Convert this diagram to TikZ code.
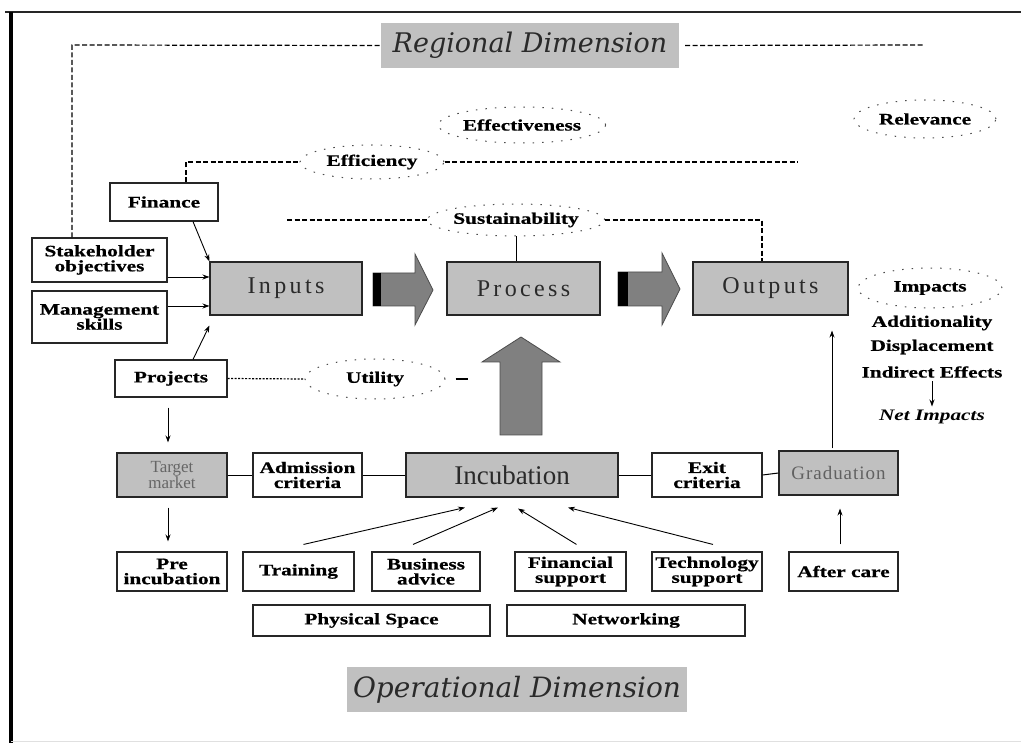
\documentclass[tikz,border=0pt]{standalone}
\usepackage{fontspec}
\setmainfont{Liberation Serif}
\newfontfamily\lblfont{Liberation Serif}[FakeStretch=1.33, BoldFeatures={FakeBold=0.6}]
\newfontfamily\spacedfont{Liberation Serif}[LetterSpace=14]
\newfontfamily\lightspacedfont{Liberation Serif}[LetterSpace=5]
\newfontfamily\dimfont{DejaVu Serif}
\usetikzlibrary{shapes.geometric,arrows.meta,calc}
\definecolor{boxgray}{HTML}{C0C0C0}
\definecolor{arrowgray}{HTML}{808080}
\definecolor{inkgray}{HTML}{2A2A2A}

\tikzset{
  sz/.style 2 args={minimum width=#1pt, minimum height=#2pt},
  lbl/.style={font=\lblfont\bfseries\fontsize{16}{15}\selectfont},
  box/.style={lbl, draw=black!85, line width=1.1pt, inner sep=0pt, align=center},
  gbox/.style={box, fill=boxgray},
  stage/.style={gbox, font=\spacedfont\fontsize{24}{24}\selectfont, text=inkgray},
  dimbox/.style={fill=boxgray, inner sep=0pt, text=inkgray},
  cloud/.style={lbl, ellipse, draw=black!70, line width=1pt, dash pattern=on 1.5pt off 8pt, inner sep=0pt},
  arr/.style={-{Stealth[length=7pt,width=5pt]}, line width=0.9pt},
  dashedline/.style={line width=1.2pt, dash pattern=on 5pt off 2.5pt},
  dottedline/.style={line width=1.2pt, dash pattern=on 2pt off 1.5pt},
  block/.style={fill=arrowgray, draw=black!70, line width=0.8pt, line join=miter}
}

\begin{document}
\begin{tikzpicture}[x=1pt,y=-1pt]
\useasboundingbox[fill=white] (0,0) rectangle (1021,743);

% page frame
\draw[line width=1.2pt, black!85] (5,12) -- (1021,12);
\draw[line width=3.5pt] (11,12) -- (11,743);
\draw[line width=0.8pt, black!12] (11,741) -- (1021,741);

% dimension labels
\node[dimbox, sz={298}{45}, font=\dimfont\itshape\fontsize{27}{27}\selectfont] (regional) at (530,45.5) {Regional Dimension};
\node[dimbox, sz={340}{45}, font=\dimfont\itshape\fontsize{28}{28}\selectfont] (operational) at (517,689.5) {Operational Dimension};

% evaluation criteria
\node[cloud, sz={148}{36}] (effectiveness) at (522,125) {Effectiveness};
\node[cloud, sz={142}{38}] (relevance) at (925,119) {Relevance};
\node[cloud, sz={144}{34}] (efficiency) at (372,162) {Efficiency};
\node[cloud, sz={144}{32}] (sustainability) at (516,220) {Sustainability};
\node[cloud, sz={140}{40}] (utility) at (375,379) {Utility};
\node[cloud, sz={144}{40}] (impacts) at (930,288) {Impacts};

% input factors
\node[box, sz={108}{38}] (finance) at (164,202) {Finance};
\node[box, sz={135}{44}] (stake) at (99.5,260) {Stakeholder\\objectives};
\node[box, sz={135}{52}] (mgmt) at (99.5,317) {Management\\skills};
\node[box, sz={112}{37}] (projects) at (171,378.5) {Projects};

% main chain
\node[stage, sz={152}{53}] (inputs) at (286,288.5) {Inputs};
\node[stage, sz={153}{53}] (process) at (523.5,288.5) {Process};
\node[stage, sz={155}{53}] (outputs) at (770.5,288.5) {Outputs};

% impacts list
\node[lbl] (additionality) at (932,323) {Additionality};
\node[lbl] (displacement) at (932,347) {Displacement};
\node[lbl] (indirect) at (932,372) {Indirect Effects};
\node[font=\lblfont\bfseries\itshape\fontsize{16}{15}\selectfont] (net) at (932,417) {Net Impacts};

% operational row
\node[gbox, sz={110}{44}, font=\fontsize{17}{14}\selectfont, text=black!60] (target) at (172,475) {Target\\market};
\node[box, sz={109}{44}] (admission) at (307.5,475) {Admission\\criteria};
\node[gbox, sz={212}{44}, font=\fontsize{27}{27}\selectfont, text=inkgray] (incubation) at (512,475) {Incubation};
\node[box, sz={110}{44}] (exit) at (707,475) {Exit\\criteria};
\node[gbox, sz={119}{44}, font=\lightspacedfont\fontsize{19}{19}\selectfont, text=black!62] (graduation) at (838.5,473) {Graduation};

% services
\node[box, sz={110}{39}] (pre) at (172,571.5) {Pre\\incubation};
\node[box, sz={111}{39}] (training) at (298.5,571.5) {Training};
\node[box, sz={108}{39}] (business) at (426,571.5) {Business\\advice};
\node[box, sz={111}{39}] (financial) at (570.5,571.5) {Financial\\support};
\node[box, sz={110}{39}] (technology) at (707,571.5) {Technology\\support};
\node[box, sz={109}{39}] (aftercare) at (843.5,571.5) {After care};
\node[box, sz={237}{31}] (physical) at (371.5,620.5) {Physical Space};
\node[box, sz={238}{31}] (networking) at (626,620.5) {Networking};

% block arrows
\draw[block] (373,273) -- (415,273) -- (415,254) -- (433,290) -- (415,325) -- (415,306) -- (373,306) -- cycle;
\fill[black] (373,273) rectangle (381,306);
\draw[block] (618,272) -- (662,272) -- (662,253) -- (680,289) -- (662,325) -- (662,306) -- (618,306) -- cycle;
\fill[black] (618,272) rectangle (628,306);
\draw[block] (500,435) -- (500,362) -- (482,362) -- (521,337) -- (560,362) -- (542,362) -- (542,435) -- cycle;

% dashed criteria lines
\coordinate (rdcorner) at (72,45);
\coordinate (rdend) at (924,45);
\draw[dashedline] (stake.north -| rdcorner) -- (rdcorner) -- (regional.west);
\draw[dashedline] ($(regional.east)+(6,0)$) -- (rdend);

\coordinate (efcorner) at (186,162);
\coordinate (efend) at (798,162);
\draw[dashedline] (finance.north -| efcorner) -- (efcorner) -- (efficiency.west);
\draw[dashedline] (efficiency.east) -- (efend);

\coordinate (sustart) at (287,220);
\coordinate (sucorner) at (762,220);
\draw[dashedline] (sustart) -- (sustainability.west);
\draw[dashedline] (sustainability.east) -- (sucorner) -- (outputs.north -| sucorner);
\draw[line width=1pt] (sustainability.south) -- (sustainability.south |- process.north);

\draw[dottedline] (projects.east) -- (utility.west);
\draw[line width=1.2pt] ($(utility.east)+(10,0)$) -- ($(utility.east)+(22,0)$);

% arrows into inputs
\draw[arr] ($(finance.south)+(29,0)$) -- (inputs.north west);
\draw[arr] ($(stake.east)+(0,17)$) -- ($(inputs.west)+(0,-11.5)$);
\draw[arr] ($(mgmt.east)+(0,-11)$) -- ($(inputs.west)+(0,17.5)$);
\draw[arr] ($(projects.north)+(22,0)$) -- ($(inputs.south west)+(0,10)$);

% impacts chain
\draw[arr] (indirect) -- (net);

% operational flow
\draw[arr] ($(projects.south)+(-3,10)$) -- ($(target.north)+(-4,-10)$);
\draw[arr] ($(target.south)+(-4,10)$) -- ($(pre.north)+(-4,-10)$);
\draw[line width=1pt] (target.east) -- (admission.west);
\draw[line width=1pt] (admission.east) -- (incubation.west);
\draw[line width=1pt] (incubation.east) -- (exit.west);
\draw[line width=1pt] (exit.east) -- (graduation.west);

\draw[arr] ($(training.north)+(5,-7)$) -- ($(incubation.south)+(-47,10)$);
\draw[arr] ($(business.north)+(-13,-7)$) -- ($(incubation.south)+(-14,10)$);
\draw[arr] ($(financial.north)+(6,-7)$) -- ($(incubation.south)+(6,11)$);
\draw[arr] ($(technology.north)+(6,-7)$) -- ($(incubation.south)+(56,10)$);
\draw[arr] ($(aftercare.north)+(-3.5,-7)$) -- ($(graduation.south)+(1.5,13)$);
\draw[arr] ($(graduation.north)+(-6.5,-2)$) -- ($(outputs.south)+(61.5,15)$);

\end{tikzpicture}
\end{document}
